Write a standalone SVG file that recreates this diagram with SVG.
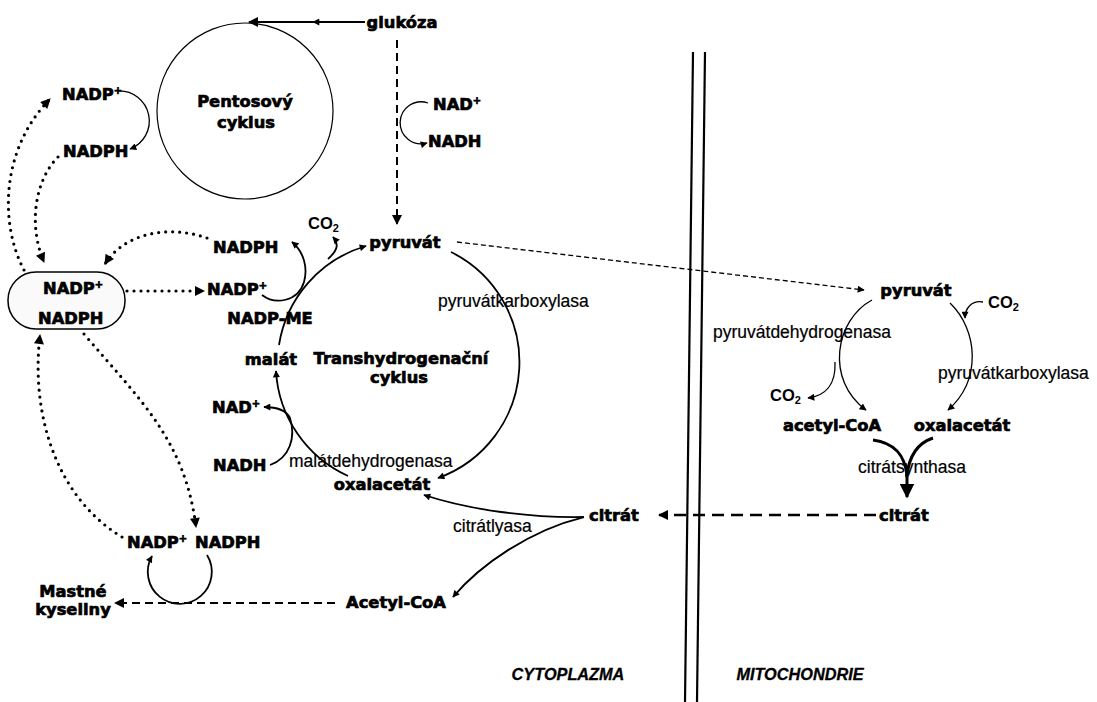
<svg xmlns="http://www.w3.org/2000/svg" width="1097" height="702" viewBox="0 0 1097 702">
<style>
.b{font-family:"DejaVu Sans","Liberation Sans",sans-serif;font-weight:bold;font-size:16.3px;fill:#000;stroke:#000;stroke-width:0.7px}
.r{font-family:"Liberation Sans",Arial,sans-serif;font-size:17.5px;fill:#000;stroke:#000;stroke-width:0.2px}
.co{font-family:"Liberation Sans",Arial,sans-serif;font-weight:bold;font-size:16.5px;fill:#000}
.it{font-family:"Liberation Sans",Arial,sans-serif;font-weight:bold;font-style:italic;font-size:16.3px;fill:#000;stroke:#000;stroke-width:0.3px}
.m{text-anchor:middle}
.ln{fill:none;stroke:#000;stroke-width:1.8}
.thin{fill:none;stroke:#000;stroke-width:1.3}
.dot{fill:none;stroke:#000;stroke-width:3.2;stroke-dasharray:0 7;stroke-linecap:round}
.dash{fill:none;stroke:#000;stroke-width:2;stroke-dasharray:8 5}
.mem{fill:none;stroke:#000;stroke-width:2.2}
</style>
<defs>
<marker id="s" viewBox="0 0 10 10" markerWidth="8" markerHeight="7" refX="9" refY="5" orient="auto" markerUnits="userSpaceOnUse"><path d="M0,0 L10,5 L0,10 z"/></marker>
<marker id="md" viewBox="0 0 10 10" markerWidth="11" markerHeight="10" refX="9" refY="5" orient="auto" markerUnits="userSpaceOnUse"><path d="M0,0 L10,5 L0,10 z"/></marker>
<marker id="lg" viewBox="0 0 10 10" markerWidth="15" markerHeight="15" refX="9" refY="5" orient="auto" markerUnits="userSpaceOnUse"><path d="M0,0 L10,5 L0,10 z"/></marker>
</defs>
<rect width="1097" height="702" fill="#fff"/>

<g id="membrane">
<line class="mem" x1="693" y1="52" x2="685" y2="702"/>
<line class="mem" x1="705" y1="52" x2="697" y2="702"/>
</g>

<g id="connectors">
<path class="ln" d="M365,22 L313,22" marker-end="url(#s)"/>
<path class="ln" d="M315,22 L249,22" marker-end="url(#md)"/>
<path class="dash" d="M397,40 L397,224" marker-end="url(#md)"/>
<path class="thin" d="M428,103 A21,21 0 1 0 427,143" marker-end="url(#s)"/>
<path class="thin" d="M118,91 A30,30 0 0 1 130,149" marker-end="url(#s)"/>
<path class="dot" d="M24,270 C 0,225 0,150 50,99" marker-end="url(#md)"/>
<path class="dot" d="M58,157 C 35,180 28,225 44,262" marker-end="url(#md)"/>
<path class="dot" d="M207,238 C 170,225 125,232 105,264" marker-end="url(#md)"/>
<path class="dot" d="M127,291 L204,291" marker-end="url(#md)"/>
<path class="dot" d="M84,334 C 140,400 185,440 196,527" marker-end="url(#md)"/>
<path class="dot" d="M122,537 C 60,500 30,420 40,335" marker-end="url(#md)"/>
<path class="ln" d="M451,252 A123,123 0 0 1 438,478" marker-end="url(#s)"/>
<path class="ln" d="M348,476 A123,123 0 0 1 276,371" marker-end="url(#s)"/>
<path class="ln" d="M279,345 A123,123 0 0 1 366,246" marker-end="url(#s)"/>
<path class="ln" d="M262,295 C 275,305 298,302 304,282 C 308,268 304,252 292,242" marker-end="url(#s)"/>
<path class="ln" d="M328,259 C 338,250 339,244 333,237" marker-end="url(#s)"/>
<path class="ln" d="M270,465 C 290,458 296,437 290,418 C 286,410 278,407 264,407" marker-end="url(#s)"/>
<path class="ln" d="M584,517 C 530,518 470,510 424,495" marker-end="url(#s)"/>
<path class="ln" d="M584,517 C 530,530 480,565 453,597" marker-end="url(#s)"/>
<path class="dash" d="M335,603 L115,603" marker-end="url(#md)"/>
<path class="ln" d="M207,555 A32,32 0 1 1 152,556" marker-end="url(#s)"/>
<path fill="none" stroke="#000" stroke-width="1.3" stroke-dasharray="5 3" d="M457,242 L864,290" marker-end="url(#s)"/>
<path class="thin" d="M872,300 C 835,320 825,380 866,410" marker-end="url(#s)"/>
<path class="thin" d="M835,362 C 836,385 825,396 808,398" marker-end="url(#s)"/>
<path class="thin" d="M950,303 C 978,330 982,380 948,410" marker-end="url(#s)"/>
<path class="thin" d="M983,302 C 972,300 965,308 965,318" marker-end="url(#s)"/>
<path fill="none" stroke="#000" stroke-width="3" d="M873,440 C 895,443 905,455 907,476"/>
<path fill="none" stroke="#000" stroke-width="3" d="M933,438 C 918,443 909,455 907,476"/>
<path fill="none" stroke="#000" stroke-width="3" d="M907,470 L907,497" marker-end="url(#lg)"/>
<path fill="none" stroke="#000" stroke-width="2.4" stroke-dasharray="12 7" d="M876,515 L659,515" marker-end="url(#md)"/>
</g>

<g id="pentose">
<circle cx="245" cy="111" r="88" fill="none" stroke="#000" stroke-width="1.2"/>
<text class="b m" x="245" y="107">Pentosový</text>
<text class="b m" x="246" y="128">cyklus</text>
</g>
<g id="glukoza"><text class="b m" x="402" y="28">glukóza</text></g>
<g id="nadp-top"><text class="b" x="62" y="100">NADP<tspan font-size="10" dy="-6">+</tspan></text></g>
<g id="nadph-top"><text class="b" x="63" y="157">NADPH</text></g>
<g id="nad-top"><text class="b" x="433" y="110">NAD<tspan font-size="10" dy="-6">+</tspan></text></g>
<g id="nadh-top"><text class="b" x="428" y="147">NADH</text></g>
<g id="pool">
<rect x="8" y="272" width="117" height="57" rx="28" fill="#fafafa" stroke="#000" stroke-width="1.5"/>
<text class="b" x="43" y="294">NADP<tspan font-size="10" dy="-6">+</tspan></text>
<text class="b" x="38" y="324">NADPH</text>
</g>
<g id="co2-cyto"><text class="co" x="308" y="229">CO<tspan font-size="11" dy="3">2</tspan></text></g>
<g id="pyruvat-cyto"><text class="b m" x="405" y="248">pyruvát</text></g>
<g id="nadph-mid"><text class="b" x="213" y="253">NADPH</text></g>
<g id="nadp-mid"><text class="b" x="207" y="295">NADP<tspan font-size="10" dy="-6">+</tspan></text></g>
<g id="nadp-me"><text class="b m" x="270" y="324">NADP-ME</text></g>
<g id="malat"><text class="b m" x="271" y="365">malát</text></g>
<g id="thc">
<text class="b m" x="401" y="364">Transhydrogenační</text>
<text class="b m" x="399" y="383">cyklus</text>
</g>
<g id="pc-cyto"><text class="r" x="438" y="307">pyruvátkarboxylasa</text></g>
<g id="nad-low"><text class="b" x="212" y="413">NAD<tspan font-size="10" dy="-6">+</tspan></text></g>
<g id="nadh-low"><text class="b" x="213" y="471">NADH</text></g>
<g id="mdh"><text class="r" x="289" y="467">malátdehydrogenasa</text></g>
<g id="oaa-cyto"><text class="b m" x="382" y="490">oxalacetát</text></g>
<g id="citrat-cyto"><text class="b m" x="614" y="521">citrát</text></g>
<g id="acl"><text class="r" x="453" y="532">citrátlyasa</text></g>
<g id="nadp-bot"><text class="b" x="127" y="548">NADP<tspan font-size="10" dy="-6">+</tspan></text></g>
<g id="nadph-bot"><text class="b" x="195" y="548">NADPH</text></g>
<g id="fa">
<text class="b m" x="73" y="597">Mastné</text>
<text class="b m" x="73" y="615">kyseliny</text>
</g>
<g id="acoa-cyto"><text class="b m" x="396" y="608">Acetyl-CoA</text></g>
<g id="pyruvat-mito"><text class="b m" x="916" y="296">pyruvát</text></g>
<g id="co2-mito1"><text class="co" x="988" y="308">CO<tspan font-size="11" dy="3">2</tspan></text></g>
<g id="pdh"><text class="r" x="713" y="338">pyruvátdehydrogenasa</text></g>
<g id="pc-mito"><text class="r" x="938" y="379">pyruvátkarboxylasa</text></g>
<g id="co2-mito2"><text class="co" x="770" y="401">CO<tspan font-size="11" dy="3">2</tspan></text></g>
<g id="acoa-mito"><text class="b m" x="832" y="431">acetyl-CoA</text></g>
<g id="oaa-mito"><text class="b m" x="962" y="431">oxalacetát</text></g>
<g id="cs"><text class="r" x="858" y="473">citrátsynthasa</text></g>
<g id="citrat-mito"><text class="b m" x="904" y="521">citrát</text></g>
<g id="labels">
<text class="it m" x="568" y="680">CYTOPLAZMA</text>
<text class="it m" x="800" y="680">MITOCHONDRIE</text>
</g>
</svg>
